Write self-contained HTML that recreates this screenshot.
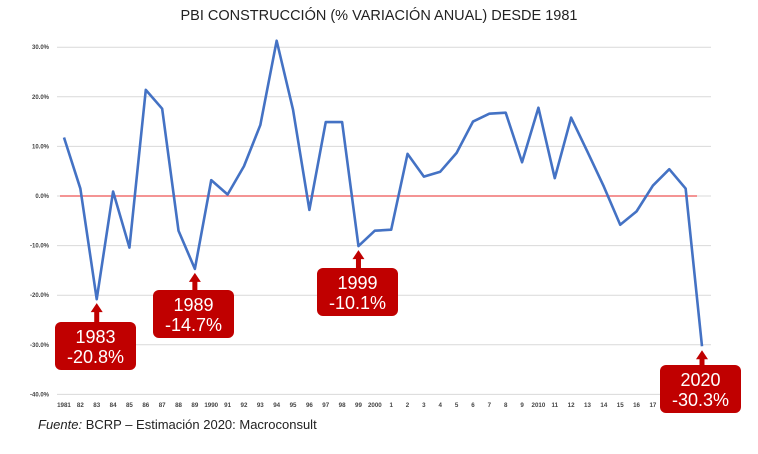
<!DOCTYPE html>
<html><head><meta charset="utf-8"><style>
body{margin:0;background:#fff;width:758px;height:449px;overflow:hidden;font-family:"Liberation Sans",sans-serif}
</style></head><body>
<svg id="chart" width="758" height="449" xmlns="http://www.w3.org/2000/svg"></svg>
<script>
const years=["1981","82","83","84","85","86","87","88","89","1990","91","92","93","94","95","96","97","98","99","2000","1","2","3","4","5","6","7","8","9","2010","11","12","13","14","15","16","17","18","19","2020"];
const values=[11.8,1.5,-20.8,0.9,-10.4,21.4,17.6,-7.0,-14.7,3.2,0.3,6.0,14.3,31.3,17.4,-2.8,14.9,14.9,-10.1,-7.0,-6.8,8.5,3.9,4.9,8.7,15.0,16.6,16.8,6.8,17.8,3.6,15.8,8.9,1.9,-5.8,-3.1,2.1,5.4,1.5,-30.3];
const yTicks=[30,20,10,0,-10,-20,-30,-40];
const callouts=[{i:2,t:"1983",v:"-20.8%"},{i:8,t:"1989",v:"-14.7%"},{i:18,t:"1999",v:"-10.1%"},{i:39,t:"2020",v:"-30.3%"}];
const calloutBoxes=[[55,322],[153,290],[317,268],[660,365]];
const NS="http://www.w3.org/2000/svg";
const svg=document.getElementById('chart');
const X=i=>64+i*(702-64)/(years.length-1);
const Y=v=>196-v*4.96;
function mk(tag,attrs,parent){const e=document.createElementNS(NS,tag);for(const k in attrs)e.setAttribute(k,attrs[k]);(parent||svg).appendChild(e);return e;}
let t=mk('text',{x:379,y:20,'text-anchor':'middle','font-size':14.5,fill:'#222'});


t.textContent='PBI CONSTRUCCIÓN (% VARIACIÓN ANUAL) DESDE 1981';
yTicks.forEach(v=>{
 const g=mk('line',{x1:57,x2:711,y1:Y(v),y2:Y(v),stroke:'#d9d9d9','stroke-width':1});
 
 
 const l=mk('text',{x:49,y:Y(v)+2,'text-anchor':'end','font-size':6,fill:'#444','font-weight':'bold'});
 
 
 l.textContent=v.toFixed(1)+'%';
});
years.forEach((y,i)=>{
 const l=mk('text',{x:X(i),y:407,'text-anchor':'middle','font-size':6.2,fill:'#444','font-weight':'bold'});
 
 
 l.textContent=y;
});
const zl=mk('line',{x1:60,x2:697,y1:Y(0),y2:Y(0),stroke:'#f07070','stroke-width':1.6});


const p=mk('polyline',{points:values.map((v,i)=>X(i)+','+Y(v)).join(' '),fill:'none',stroke:'#4472c4','stroke-width':2.6,'stroke-linejoin':'round'});


callouts.forEach((c,k)=>{
 const [bx,by]=calloutBoxes[k];
 const g=mk('g',{});
 
 
 const px=X(c.i),py=Y(values[c.i])+4;
 mk('rect',{x:px-2.5,y:py+8,width:5,height:by-py-8,fill:'#c00000'},g);
 mk('polygon',{points:`${px},${py} ${px-6},${py+9} ${px+6},${py+9}`,fill:'#c00000'},g);
 mk('rect',{x:bx,y:by,width:81,height:48,rx:6,fill:'#c00000'},g);
 const a=mk('text',{x:bx+40.5,y:by+21,'text-anchor':'middle','font-size':18,fill:'#fff'},g);a.textContent=c.t;
 const b=mk('text',{x:bx+40.5,y:by+41,'text-anchor':'middle','font-size':18,fill:'#fff'},g);b.textContent=c.v;
});
const s=mk('text',{x:38,y:429,'font-size':13,fill:'#222'});


s.innerHTML='<tspan font-style="italic">Fuente:</tspan> BCRP – Estimación 2020: Macroconsult';
</script>
</body></html>
